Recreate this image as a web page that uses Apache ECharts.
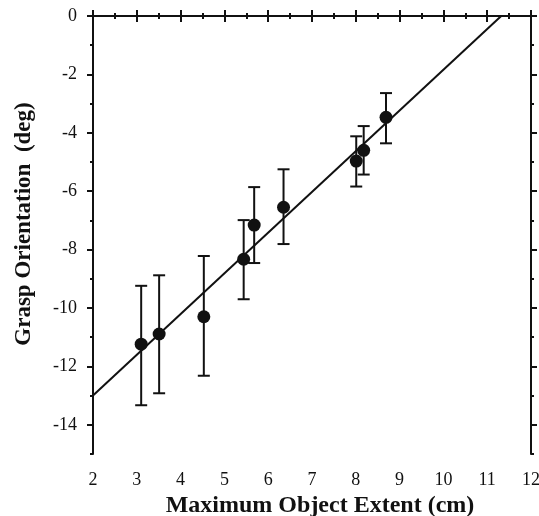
<!DOCTYPE html>
<html>
<head>
<meta charset="utf-8">
<script src="https://cdn.jsdelivr.net/npm/echarts@6/dist/echarts.min.js"></script>
<style>html,body{margin:0;padding:0;background:#fff}#c{width:539px;height:516px}</style>
</head>
<body>
<div id="c"></div>
<script>
var extent = [3.10, 3.51, 4.53, 5.44, 5.68, 6.35, 8.01, 8.18, 8.69];
var orientation = [-11.24, -10.89, -10.30, -8.33, -7.16, -6.55, -4.97, -4.60, -3.47];
var errTop = [-9.24, -8.88, -8.22, -6.99, -5.86, -5.25, -4.12, -3.77, -2.64];
var errBottom = [-13.33, -12.92, -12.32, -9.70, -8.46, -7.81, -5.84, -5.43, -4.36];
var fitLine = [[2, -13.0], [11.32, 0]];
var xTicks = [2, 3, 4, 5, 6, 7, 8, 9, 10, 11, 12];
var yTicks = [0, -2, -4, -6, -8, -10, -12, -14];
var yMinorTicks = [-1, -3, -5, -7, -9, -11, -13, -15];

var FONT = '"Liberation Serif", "Times New Roman", serif';
var points = extent.map(function (x, i) { return [x, orientation[i]]; });
var bars = extent.map(function (x, i) { return [x, errBottom[i], errTop[i]]; });

var lc = '#111';
var axisLine = { show: true, lineStyle: { color: lc, width: 2 } };
var tick = { show: true, length: 6, lineStyle: { color: lc, width: 2 } };
var minor = { show: true, splitNumber: 2, length: 3, lineStyle: { color: lc, width: 2 } };

function yAx(pos, major, withLabels) {
  var a = {
    type: 'value', min: -15, max: 0, position: pos,
    axisLine: major ? axisLine : { show: false },
    axisTick: { show: true, length: major ? 6 : 3, customValues: major ? yTicks : yMinorTicks,
      lineStyle: { color: lc, width: 2 } },
    splitLine: { show: false },
    axisLabel: { show: false }
  };
  if (withLabels) {
    a.axisLabel = { show: true, customValues: yTicks, fontFamily: FONT, fontSize: 18, color: lc, margin: 16 };
    a.name = 'Grasp Orientation  (deg)';
    a.nameLocation = 'middle';
    a.nameGap = 57;
    a.nameRotate = 90;
    a.nameTextStyle = { fontFamily: FONT, fontSize: 23, fontWeight: 'bold', color: lc, padding: [0, 0, 0, 22] };
  }
  return a;
}

var chart = echarts.init(document.getElementById('c'));
chart.setOption({
  animation: false,
  backgroundColor: '#fff',
  grid: { left: 93, right: 8, top: 16, bottom: 62, containLabel: false, outerBoundsMode: 'none' },
  xAxis: [{
    type: 'value', min: 2, max: 12, interval: 1, position: 'bottom',
    axisLine: axisLine, axisTick: tick, minorTick: minor, splitLine: { show: false },
    axisLabel: { fontFamily: FONT, fontSize: 18, color: lc, margin: 17,
      formatter: function (v) { return xTicks.indexOf(v) >= 0 ? String(v) : ''; } },
    name: 'Maximum Object Extent (cm)', nameLocation: 'middle', nameGap: 38,
    nameTextStyle: { fontFamily: FONT, fontSize: 24, fontWeight: 'bold', color: lc, padding: [0, 0, 0, 16] }
  }, {
    type: 'value', min: 2, max: 12, interval: 1, position: 'top',
    axisLine: axisLine, axisTick: tick, minorTick: minor, splitLine: { show: false },
    axisLabel: { show: false }
  }],
  yAxis: [yAx('left', true, true), yAx('left', false, false), yAx('right', true, false), yAx('right', false, false)],
  series: [{
    type: 'line', data: fitLine, xAxisIndex: 0, yAxisIndex: 0, symbol: 'none',
    lineStyle: { color: lc, width: 2 }, z: 2
  }, {
    type: 'custom', xAxisIndex: 0, yAxisIndex: 0, data: bars, z: 3,
    renderItem: function (params, api) {
      var x = api.value(0);
      var lo = api.coord([x, api.value(1)]);
      var hi = api.coord([x, api.value(2)]);
      var hw = 6;
      var st = { stroke: lc, lineWidth: 2 };
      return { type: 'group', children: [
        { type: 'line', shape: { x1: lo[0], y1: lo[1], x2: hi[0], y2: hi[1] }, style: st },
        { type: 'line', shape: { x1: lo[0] - hw, y1: lo[1], x2: lo[0] + hw, y2: lo[1] }, style: st },
        { type: 'line', shape: { x1: hi[0] - hw, y1: hi[1], x2: hi[0] + hw, y2: hi[1] }, style: st }
      ] };
    }
  }, {
    type: 'scatter', data: points, xAxisIndex: 0, yAxisIndex: 0, symbol: 'circle', symbolSize: 13,
    itemStyle: { color: lc, opacity: 1 }, z: 4
  }]
});
</script>
</body>
</html>
